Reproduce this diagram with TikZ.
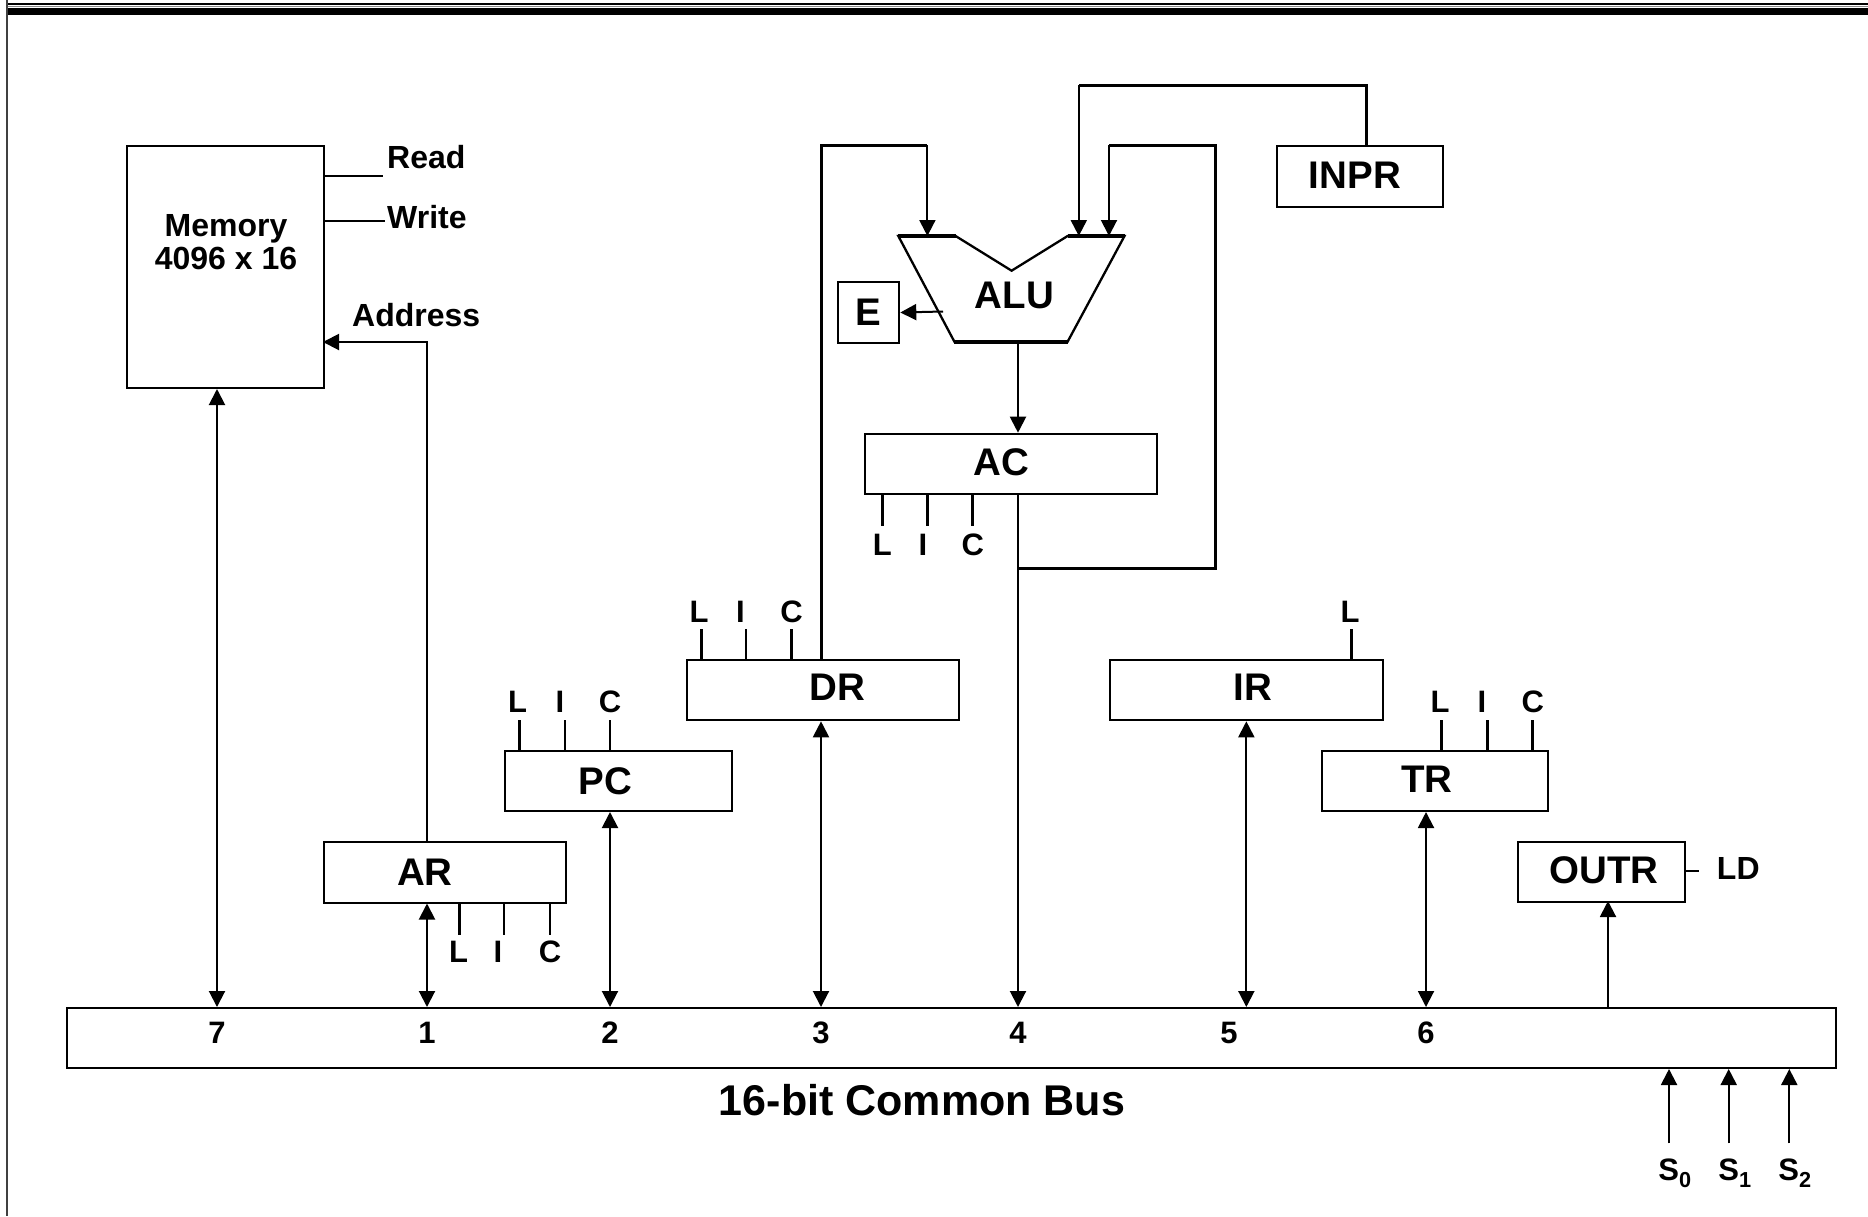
\documentclass[tikz,border=0pt]{standalone}
\usepackage{fontspec}
\setmainfont{Liberation Sans}
\usetikzlibrary{arrows.meta}
\begin{document}
\begin{tikzpicture}[x=1pt,y=-1pt,
  box/.style={draw, line width=2pt, inner sep=0pt, anchor=north west},
  regtxt/.style={inner sep=0pt, font=\fontsize{38.5}{42}\selectfont\bfseries},
  lbl/.style={inner sep=0pt, font=\fontsize{31}{34}\selectfont\bfseries},
  sig/.style={inner sep=0pt, font=\fontsize{32}{33}\selectfont\bfseries},
  wire/.style={line width=2pt},
  thickwire/.style={line width=3pt},
  tickL/.style={line width=3pt},
  tickN/.style={line width=2.5pt},
  tip/.tip={Triangle[width=16pt,length=16pt]},
  arr/.style={line width=2pt, -tip},
  dbl/.style={line width=2pt, tip-tip},
]
\useasboundingbox (0,0) rectangle (1868,1216);
% header decoration
\fill[black] (7,2.8) rectangle (1868,4.6);
\fill[black!45] (7,5.6) rectangle (1868,6.5);
\fill[black] (7,7.8) rectangle (1868,15.2);
\draw[line width=2pt, black!75] (7,0) -- (7,1216);

% Memory
\node[box, minimum width=197pt, minimum height=242pt] (mem) at (126,145) {};
\node[sig, align=center] (memtxt) at (226,242) {Memory\\4096 x 16};
\node[sig, anchor=west] (rdl) at (387,157) {Read};
\node[sig, anchor=west] (wrl) at (387,217) {Write};
\node[sig, anchor=west] (addr) at (352,315) {Address};
\coordinate (rd) at (383,176);
\coordinate (wr) at (385,221);
\coordinate (maddr) at (323,342);
\draw[wire] (mem.east |- rd) -- (rd);
\draw[wire] (mem.east |- wr) -- (wr);

% Registers
\node[box, minimum width=242pt, minimum height=60.5pt] (ar) at (323,841) {};
\node[regtxt] (arT) at (425,872) {AR};
\node[box, minimum width=226.7pt, minimum height=60pt] (pc) at (504,750) {};
\node[regtxt] (pcT) at (605.5,781) {PC};
\node[box, minimum width=272.6pt, minimum height=60pt] (dr) at (685.7,659.3) {};
\node[regtxt] (drT) at (837.5,687) {DR};
\node[box, minimum width=291.4pt, minimum height=60pt] (ac) at (864.3,432.7) {};
\node[regtxt] (acT) at (1001.7,462) {AC};
\node[box, minimum width=272.7pt, minimum height=60pt] (ir) at (1109,659.3) {};
\node[regtxt] (irT) at (1253,687) {IR};
\node[box, minimum width=226.6pt, minimum height=60pt] (tr) at (1320.7,750) {};
\node[regtxt] (trT) at (1426.7,779) {TR};
\node[box, minimum width=166pt, minimum height=60.7pt] (inpr) at (1276,145) {};
\node[regtxt] (inprT) at (1354.8,175) {INPR};
\node[box, minimum width=166.7pt, minimum height=60.3pt] (outr) at (1517.3,840.7) {};
\node[regtxt] (outrT) at (1604,870) {OUTR};
\node[lbl, font=\fontsize{32}{34}\selectfont\bfseries] (ld) at (1738.3,868.3) {LD};
\coordinate (ldc) at (1699,870.7);
\draw[wire] (outr.east |- ldc) -- (ldc);
\node[box, regtxt, minimum width=61.8pt, minimum height=61.6pt] (E) at (836.5,280.7) {E};

% ALU
\coordinate (a1) at (898.3,236);
\coordinate (a2) at (955.6,236);
\coordinate (a3) at (1011.6,270.7);
\coordinate (a4) at (1067.6,236);
\coordinate (a5) at (1124.5,236);
\coordinate (a6) at (1067.6,341.7);
\coordinate (a7) at (954.4,341.7);
\draw[line width=2.3pt, line join=miter] (a1) -- (a2) -- (a3) -- (a4) -- (a5) -- (a6) -- (a7) -- cycle;
\draw[line width=4pt] (a1) -- (a2) (a4) -- (a5) (a6) -- (a7);
\node[regtxt] (alu) at (1014.5,295) {ALU};

% Bus
\node[box, minimum width=1769pt, minimum height=60pt] (bus) at (66,1007) {};
\node[lbl] (n7) at (217,1033) {7};
\node[lbl] (n1) at (427,1033) {1};
\node[lbl] (n2) at (610,1033) {2};
\node[lbl] (n3) at (821,1033) {3};
\node[lbl] (n4) at (1018,1033) {4};
\node[lbl] (n5) at (1229,1033) {5};
\node[lbl] (n6) at (1426,1033) {6};
\node[inner sep=0pt, font=\fontsize{43}{46}\selectfont\bfseries] (bustitle) at (922,1100) {16-bit Common Bus};

% bus connections
\draw[dbl] (mem.south -| n7) -- (bus.north -| n7);
\draw[dbl] (ar.south -| n1) -- (bus.north -| n1);
\draw[arr] (ar.north -| n1) |- (maddr);
\draw[dbl] (pc.south -| n2) -- (bus.north -| n2);
\draw[dbl] (dr.south -| n3) -- (bus.north -| n3);
\draw[arr] (ac.south -| n4) -- (bus.north -| n4);
\draw[dbl] (ir.south) -- (bus.north -| ir.south);
\draw[dbl] (tr.south -| n6) -- (bus.north -| n6);
\coordinate (oline) at (1608,901);
\draw[arr] (bus.north -| oline) -- (oline);

% ALU connections
\coordinate (eout) at (943,311.5);
\draw[arr] (eout) -- (E.east);
\coordinate (aluout) at (1018,341.7);
\draw[arr] (aluout) -- (ac.north -| aluout);
\coordinate (topA) at (927.4,145);
\coordinate (inA) at (927.4,236);
\draw[thickwire] (dr.north -| n3) |- (topA);
\draw[arr] (topA) -- (inA);
\coordinate (inprout) at (1366.8,145);
\coordinate (topB) at (1078.8,85);
\coordinate (inB) at (1078.8,236);
\draw[thickwire] (inprout) |- (topB);
\draw[arr] (topB) -- (inB);
\coordinate (acj) at (1018,568.3);
\coordinate (fb) at (1215.7,145);
\coordinate (topC) at (1109,145);
\coordinate (inC) at (1109,236);
\draw[thickwire] (acj) -| (fb) -- (topC);
\draw[arr] (topC) -- (inC);

% control labels and ticks
% AC
\node[lbl] (acL) at (882.3,545) {L};
\node[lbl] (acI) at (923,545) {I};
\node[lbl] (acC) at (972.7,545) {C};
\draw[tickL] (ac.south -| acL) -- ++(0,31.3);
\draw[tickN] (ac.south -| 927.3,0) -- ++(0,31.3);
\draw[tickN] (ac.south -| acC) -- ++(0,31.3);
% DR
\node[lbl] (drL) at (699,611.7) {L};
\node[lbl] (drI) at (740.5,611.7) {I};
\node[lbl] (drC) at (791.5,611.7) {C};
\draw[tickL] (dr.north -| 701,0) -- ++(0,-30);
\draw[tickN] (dr.north -| 746,0) -- ++(0,-30);
\draw[tickN] (dr.north -| drC) -- ++(0,-30);
% PC
\node[lbl] (pcL) at (517.5,701.7) {L};
\node[lbl] (pcI) at (560,701.7) {I};
\node[lbl] (pcC) at (610,701.7) {C};
\draw[tickL] (pc.north -| 519.3,0) -- ++(0,-30);
\draw[tickN] (pc.north -| 565,0) -- ++(0,-30);
\draw[tickN] (pc.north -| pcC) -- ++(0,-30);
% IR
\node[lbl] (irL) at (1350,611.7) {L};
\draw[tickL] (ir.north -| 1351.7,0) -- ++(0,-30);
% TR
\node[lbl] (trL) at (1440,701.7) {L};
\node[lbl] (trI) at (1482,701.7) {I};
\node[lbl] (trC) at (1532.7,701.7) {C};
\draw[tickL] (tr.north -| 1441.7,0) -- ++(0,-30);
\draw[tickN] (tr.north -| 1487.3,0) -- ++(0,-30);
\draw[tickN] (tr.north -| trC) -- ++(0,-30);
% AR
\node[lbl] (arL) at (458.5,952) {L};
\node[lbl] (arI) at (498,952) {I};
\node[lbl] (arC) at (550,952) {C};
\draw[tickL] (ar.south -| 459,0) -- ++(0,31);
\draw[tickN] (ar.south -| 504,0) -- ++(0,31);
\draw[tickN] (ar.south -| arC) -- ++(0,31);

% select signals
\node[inner sep=0pt, font=\fontsize{31}{33}\selectfont\bfseries] (s0) at (1675,1173) {S\textsubscript{0}};
\node[inner sep=0pt, font=\fontsize{31}{33}\selectfont\bfseries] (s1) at (1735,1173) {S\textsubscript{1}};
\node[inner sep=0pt, font=\fontsize{31}{33}\selectfont\bfseries] (s2) at (1795,1173) {S\textsubscript{2}};
\coordinate (s0a) at (1669,1143.3);
\coordinate (s1a) at (1728.7,1143.3);
\coordinate (s2a) at (1789.3,1143.3);
\draw[arr] (s0a) -- (bus.south -| s0a);
\draw[arr] (s1a) -- (bus.south -| s1a);
\draw[arr] (s2a) -- (bus.south -| s2a);
\end{tikzpicture}
\end{document}
